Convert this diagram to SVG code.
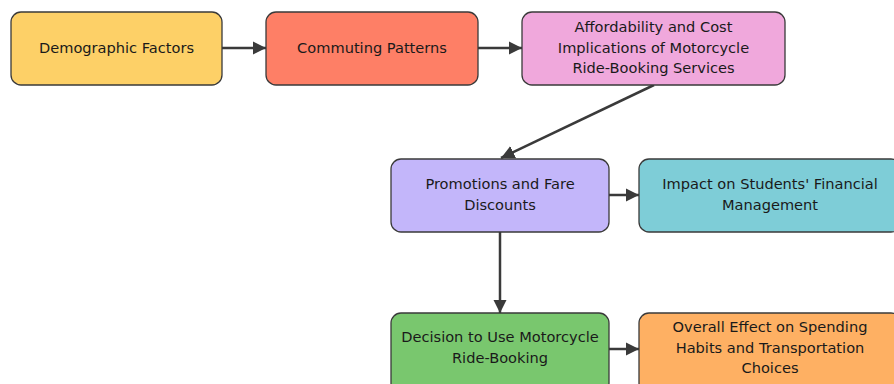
<svg xmlns="http://www.w3.org/2000/svg" width="894" height="384" viewBox="0 0 894 384">
  <style>
    .box { stroke: #3a3a3a; stroke-width: 1.3; }
    .lbl { font-family: "DejaVu Sans", sans-serif; font-size: 14.6px; fill: #1a1a1a; text-anchor: middle; }
    .edge { stroke: #3a3a3a; stroke-width: 2.5; fill: none; marker-end: url(#arrow); }
  </style>
  <defs>
    <marker id="arrow" viewBox="0 0 10 10" refX="10" refY="5" markerWidth="5.4" markerHeight="5.4" orient="auto" markerUnits="strokeWidth">
      <path d="M0,0 L10,5 L0,10 z" fill="#3a3a3a"/>
    </marker>
  </defs>
  <rect width="894" height="384" fill="#ffffff"/>

  <g id="connectors">
    <path class="edge" d="M222,48 L266,48"/>
    <path class="edge" d="M478,48 L522,48"/>
    <path class="edge" d="M654,85 L501,158"/>
    <path class="edge" d="M609,195 L639,195"/>
    <path class="edge" d="M500,232 L500,313"/>
    <path class="edge" d="M609,349 L639,349"/>
  </g>

  <g id="demographic">
    <rect class="box" x="11" y="12" width="211" height="73" rx="10" fill="#fdd067"/>
    <text class="lbl" x="116.5" y="53">Demographic Factors</text>
  </g>
  <g id="commuting">
    <rect class="box" x="266" y="12" width="212" height="73" rx="10" fill="#fe7f66"/>
    <text class="lbl" x="372" y="53">Commuting Patterns</text>
  </g>
  <g id="affordability">
    <rect class="box" x="522" y="12" width="263" height="73" rx="10" fill="#f0a8dc"/>
    <text class="lbl" x="653.5" y="32">Affordability and Cost</text>
    <text class="lbl" x="653.5" y="52.5">Implications of Motorcycle</text>
    <text class="lbl" x="653.5" y="73">Ride-Booking Services</text>
  </g>
  <g id="promotions">
    <rect class="box" x="391" y="159" width="218" height="73" rx="10" fill="#c3b6fa"/>
    <text class="lbl" x="500" y="189">Promotions and Fare</text>
    <text class="lbl" x="500" y="209.5">Discounts</text>
  </g>
  <g id="impact">
    <rect class="box" x="639" y="159" width="262" height="73" rx="10" fill="#7ecdd7"/>
    <text class="lbl" x="770" y="189">Impact on Students' Financial</text>
    <text class="lbl" x="770" y="209.5">Management</text>
  </g>
  <g id="decision">
    <rect class="box" x="391" y="313" width="218" height="80" rx="10" fill="#79c76e"/>
    <text class="lbl" x="500" y="342">Decision to Use Motorcycle</text>
    <text class="lbl" x="500" y="362.5">Ride-Booking</text>
  </g>
  <g id="overall">
    <rect class="box" x="639" y="313" width="262" height="80" rx="10" fill="#feb063"/>
    <text class="lbl" x="770" y="332">Overall Effect on Spending</text>
    <text class="lbl" x="770" y="352.5">Habits and Transportation</text>
    <text class="lbl" x="770" y="373">Choices</text>
  </g>
</svg>
